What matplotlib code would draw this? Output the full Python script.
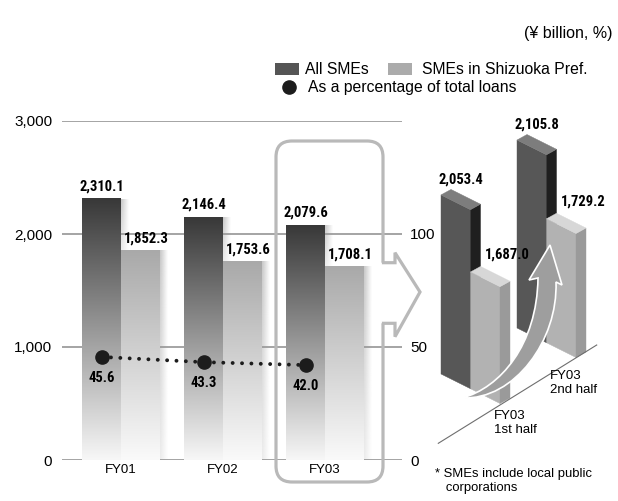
import numpy as np
import matplotlib
matplotlib.use('Agg')
import matplotlib.pyplot as plt
from matplotlib.colors import LinearSegmentedColormap
from matplotlib.patches import Rectangle, Polygon, FancyBboxPatch, PathPatch
from matplotlib.path import Path
from matplotlib.ticker import FuncFormatter

# yearly loans to SMEs (¥ billion) and share of total loans (%)
years = ['FY01', 'FY02', 'FY03']
all_smes = [2310.1, 2146.4, 2079.6]
shizuoka_smes = [1852.3, 1753.6, 1708.1]
loan_share = [45.6, 43.3, 42.0]

# FY03 split by half year
halves = ['FY03\n1st half', 'FY03\n2nd half']
half_all = [2053.4, 2105.8]
half_shizuoka = [1687.0, 1729.2]

plt.rcParams['font.family'] = ['Liberation Sans', 'DejaVu Sans']
NARROW = ['Roboto Condensed', 'Liberation Sans', 'DejaVu Sans']

fig = plt.figure(figsize=(6.18, 5.01), dpi=100)
ax = fig.add_axes([62 / 618, 41 / 501, 340 / 618, 339 / 501])

x = np.arange(len(years))
bw = 0.38
shw = 0.07


def grad_bar(x0, x1, top, c_top, c_bot):
    cmap = LinearSegmentedColormap.from_list('g', [c_bot, c_top])
    g = np.linspace(0, 1, 256).reshape(-1, 1)
    ax.imshow(g, cmap=cmap, extent=[x0, x1, 0, top], origin='lower',
              aspect='auto', zorder=2, interpolation='bicubic')


def side_shadow(x0, x1, y0, y1):
    h = np.linspace(1, 0, 32)[None, :]
    v = np.linspace(0.35, 1, 128)[:, None]
    rgba = np.zeros((128, 32, 4))
    rgba[..., :3] = 0.6
    rgba[..., 3] = (h * v) * 0.55
    ax.imshow(rgba, extent=[x0, x1, y0, y1], origin='lower',
              aspect='auto', zorder=1.8, interpolation='bicubic')


for i in range(len(years)):
    c = x[i]
    side_shadow(c, c + shw, shizuoka_smes[i], all_smes[i])
    side_shadow(c + bw, c + bw + shw, 0, shizuoka_smes[i])
    grad_bar(c - bw, c, all_smes[i], '#383838', '#f7f7f7')
    grad_bar(c, c + bw, shizuoka_smes[i], '#a9a9a9', '#fafafa')
    ax.annotate(f'{all_smes[i]:,.1f}', (c - bw / 2, all_smes[i]),
                xytext=(0, 4), textcoords='offset points', ha='center',
                va='bottom', fontsize=10.5, fontweight='bold', family=NARROW)
    ax.annotate(f'{shizuoka_smes[i]:,.1f}', (c + bw / 2, shizuoka_smes[i]),
                xytext=(4, 4), textcoords='offset points', ha='center',
                va='bottom', fontsize=10.5, fontweight='bold', family=NARROW)

ax.set_xlim(-0.578, 2.755)
ax.set_ylim(0, 3000)
ax.set_yticks([0, 1000, 2000, 3000])
ax.yaxis.set_major_formatter(FuncFormatter(lambda v, p: f'{v:,.0f}'))
ax.set_xticks(x)
ax.set_xticklabels(years, fontsize=9.5)
ax.tick_params(axis='both', length=0)
ax.tick_params(axis='y', labelsize=11, pad=7)
ax.tick_params(axis='x', pad=3)
ax.set_axisbelow(True)
ax.yaxis.grid(True, color='#8c8c8c', lw=1.1)
for s in ax.spines.values():
    s.set_visible(False)

# share of total loans on the right-hand scale
ax2 = ax.twinx()
ax2.set_ylim(0, 150)
ax2.set_yticks([0, 50, 100])
ax2.tick_params(axis='y', length=0, labelsize=11, pad=6)
for s in ax2.spines.values():
    s.set_visible(False)
ax2.plot(x - bw / 2, loan_share, ls=(0, (0.01, 2.4)), lw=2.8,
         dash_capstyle='round', color='#1c1c1c', marker='o', ms=9.5, zorder=5)
for xi, v in zip(x - bw / 2, loan_share):
    ax2.annotate(f'{v:.1f}', (xi, v), xytext=(0, -15), textcoords='offset points',
                 ha='center', va='center', fontsize=10.5, fontweight='bold',
                 family=NARROW)

# overlay in pixel coordinates for the callout and half-year block
ov = fig.add_axes([0, 0, 1, 1], zorder=5)
ov.set_xlim(0, 618)
ov.set_ylim(501, 0)
ov.axis('off')
ov.patch.set_visible(False)

box = FancyBboxPatch((276, 141), 107, 341, boxstyle='round,pad=0,rounding_size=16',
                     ec='#b9b9b9', fc='none', lw=2.3)
ov.add_patch(box)
arrow_pts = [(380, 262.7), (395, 262.7), (395, 252.7), (420, 292),
             (395, 336.7), (395, 323.3), (380, 323.3)]
ov.add_patch(Polygon(arrow_pts, closed=True, fc='white', ec='none'))
ax_x, ax_y = zip(*[(383.5, 262.7)] + arrow_pts[1:-1] + [(383.5, 323.3)])
ov.plot(ax_x, ax_y, color='#b9b9b9', lw=2.3, solid_joinstyle='miter')

# half-year 3D bars
W = np.array([29.5, 14.75])
D = np.array([10.0, -5.5])
base0 = np.array([441.0, 374.0])
step = np.array([76.0, -46.0])
floor_val = 1000
px_per_unit = 0.170

ov.plot([438.3, 596.7], [443.3, 345], color='#6e6e6e', lw=0.8)


def bar3d(o, value, front, top, side):
    h = (value - floor_val) * px_per_unit
    up = np.array([0, h])
    fl_b, fr_b = o, o + W
    fl_t, fr_t = fl_b - up, fr_b - up
    ov.add_patch(Polygon([fl_b, fr_b, fr_t, fl_t], fc=front, ec=front, lw=0.3))
    ov.add_patch(Polygon([fr_b, fr_b + D, fr_t + D, fr_t], fc=side, ec=side, lw=0.3))
    ov.add_patch(Polygon([fl_t, fr_t, fr_t + D, fl_t + D], fc=top, ec=top, lw=0.3))
    return fl_t


label_kw = dict(ha='center', va='center', fontsize=10.5, fontweight='bold', family=NARROW)
for i in range(len(halves)):
    o = base0 + i * step
    t = bar3d(o, half_all[i], '#575757', '#7d7d7d', '#1f1f1f')
    ov.text(t[0] + 20, t[1] - 15, f'{half_all[i]:,.1f}', **label_kw)
    t = bar3d(o + W, half_shizuoka[i], '#b2b2b2', '#d7d7d7', '#9a9a9a')
    ov.text(t[0] + 37, t[1] - 17, f'{half_shizuoka[i]:,.1f}', **label_kw)
    lx, ly = (494, 423) if i == 0 else (550, 383)
    ov.text(lx, ly, halves[i], ha='left', va='center', fontsize=9.5, linespacing=1.3)

# curved growth arrow
verts = [(462, 398), (500, 388), (537, 345), (538, 278),
         (529, 280), (550, 245), (562, 285), (556, 282),
         (558, 340), (515, 400), (462, 398)]
codes = [Path.MOVETO, Path.CURVE4, Path.CURVE4, Path.CURVE4,
         Path.LINETO, Path.LINETO, Path.LINETO, Path.LINETO,
         Path.CURVE4, Path.CURVE4, Path.CURVE4]
ov.add_patch(PathPatch(Path(verts, codes), fc='#9e9e9e', ec='white', lw=1.2))

# legend and notes
ov.text(613, 33, '(¥ billion, %)', ha='right', va='center', fontsize=11.5)
ov.add_patch(Rectangle((275, 63), 24, 12, fc='#555555', ec='none'))
ov.text(305, 69, 'All SMEs', ha='left', va='center', fontsize=11.3)
ov.add_patch(Rectangle((388, 63), 24, 12, fc='#ababab', ec='none'))
ov.text(422, 69, 'SMEs in Shizuoka Pref.', ha='left', va='center', fontsize=11.3)
ov.plot(288.5, 87, 'o', ms=9.5, color='#1c1c1c')
ov.text(308, 87, 'As a percentage of total loans', ha='left', va='center', fontsize=11.3)
ov.text(435, 481, '* SMEs include local public\n   corporations', ha='left',
        va='center', fontsize=9.4, linespacing=1.25)

fig.savefig('out.png', dpi=100)
